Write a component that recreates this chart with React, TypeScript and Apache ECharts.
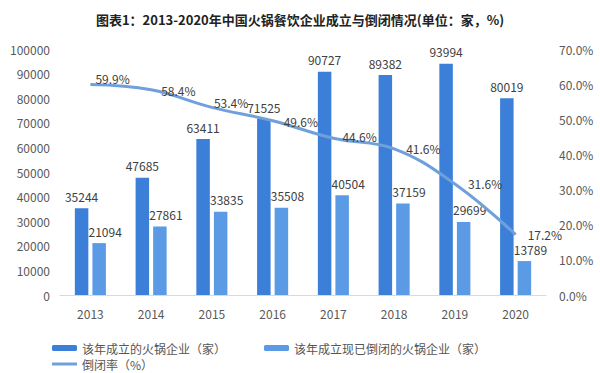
import React, { useEffect, useRef } from "react";
import * as echarts from "echarts";

const years = ["2013", "2014", "2015", "2016", "2017", "2018", "2019", "2020"];
const founded = [35244, 47685, 63411, 71525, 90727, 89382, 93994, 80019];
const closed = [21094, 27861, 33835, 35508, 40504, 37159, 29699, 13789];
const closeRate = [59.9, 58.4, 53.4, 49.6, 44.6, 41.6, 31.6, 17.2];

const seriesNames = ["该年成立的火锅企业（家）", "该年成立现已倒闭的火锅企业（家）", "倒闭率（%）"];
const titleText = "图表1：2013-2020年中国火锅餐饮企业成立与倒闭情况(单位：家，%)";

// label nudges (layout only), [dx, dy] in pixels per point of the rate line
const rateLabelNudge: [number, number][] = [
  [5, -6], [10, 1], [2, -5], [11, 1], [9, -2], [12, 0], [13, 0], [12, 0],
];

const FONT = "'Noto Sans CJK SC', 'Noto Sans', sans-serif";

export default function App() {
  const ref = useRef<HTMLDivElement>(null);
  useEffect(() => {
    const chart = echarts.init(ref.current!, null, { renderer: "svg" });
    const legendText = { color: "#555", fontSize: 12, fontFamily: FONT };
    chart.setOption({
      animation: false,
      backgroundColor: "#fff",
      textStyle: { fontFamily: FONT },
      title: {
        text: titleText,
        left: "center",
        top: 8,
        textStyle: { fontSize: 13, fontWeight: "bold", color: "#222", fontFamily: FONT },
      },
      legend: [
        {
          data: [seriesNames[0]],
          left: 52,
          top: 342,
          itemWidth: 25,
          itemHeight: 6,
          itemGap: 4,
          textStyle: legendText,
          padding: 0,
        },
        {
          data: [seriesNames[1]],
          left: 264,
          top: 342,
          itemWidth: 25,
          itemHeight: 6,
          textStyle: legendText,
          padding: 0,
        },
        {
          data: [{ name: seriesNames[2], icon: "rect" }],
          left: 52,
          top: 358,
          itemWidth: 25,
          itemHeight: 3,
          textStyle: legendText,
          padding: 0,
        },
      ],
      grid: { left: 60, right: 54, top: 49, bottom: 78 },
      xAxis: {
        type: "category",
        data: years,
        axisTick: { show: false },
        axisLine: { lineStyle: { color: "#d9d9d9" } },
        axisLabel: { color: "#595959", fontSize: 12, margin: 12 },
      },
      yAxis: [
        {
          type: "value",
          min: 0,
          max: 100000,
          interval: 10000,
          splitLine: { show: false },
          axisLine: { show: false },
          axisTick: { show: false },
          axisLabel: { color: "#595959", fontSize: 12, margin: 10, formatter: (v: number) => String(v) },
        },
        {
          type: "value",
          min: 0,
          max: 70,
          interval: 10,
          splitLine: { show: false },
          axisLine: { show: false },
          axisTick: { show: false },
          axisLabel: {
            color: "#595959",
            fontSize: 12,
            margin: 13,
            formatter: (v: number) => v.toFixed(1) + "%",
          },
        },
      ],
      series: [
        {
          name: seriesNames[0],
          type: "bar",
          data: founded,
          barWidth: 13.5,
          barGap: "30%",
          itemStyle: { color: "#3b7fd8" },
          label: { show: true, position: "top", color: "#404040", fontSize: 12, distance: 6 },
        },
        {
          name: seriesNames[1],
          type: "bar",
          data: closed,
          barWidth: 13.5,
          itemStyle: { color: "#5b9be6" },
          label: { show: true, position: "top", color: "#404040", fontSize: 12, distance: 6, offset: [6, 0] },
        },
        {
          name: seriesNames[2],
          type: "line",
          yAxisIndex: 1,
          data: closeRate.map((v, i) => ({
            value: v,
            label: { offset: rateLabelNudge[i] },
          })),
          smooth: 0.4,
          showSymbol: true,
          symbol: "circle",
          symbolSize: 0,
          lineStyle: { color: "#6fa0dc", width: 3 },
          itemStyle: { color: "#6fa0dc" },
          label: {
            show: true,
            position: "right",
            distance: 0,
            color: "#404040",
            fontSize: 12,
            formatter: (p: any) => Number(p.value).toFixed(1) + "%",
          },
          z: 5,
        },
      ],
    });
    return () => chart.dispose();
  }, []);
  return <div ref={ref} style={{ width: 600, height: 373, position: "absolute", left: 0, top: 0 }} />;
}
